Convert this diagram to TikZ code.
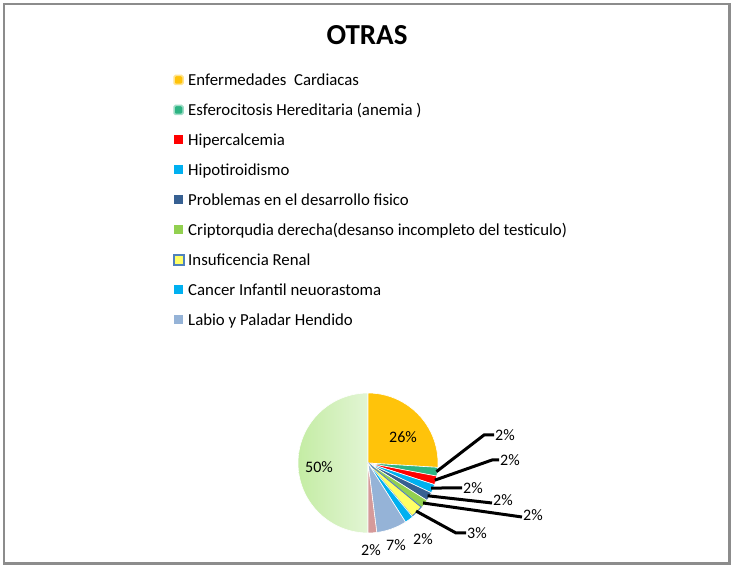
\documentclass[tikz,border=0pt]{standalone}
\usepackage{fontspec}
\setmainfont{Carlito}
\usetikzlibrary{calc}

\definecolor{framegray}{RGB}{140,140,140}
\definecolor{gold}{RGB}{255,195,10}
\definecolor{teal}{RGB}{45,180,131}
\definecolor{hired}{RGB}{255,0,0}
\definecolor{skyblue}{RGB}{0,176,240}
\definecolor{navyblue}{RGB}{55,96,146}
\definecolor{leafgreen}{RGB}{146,208,80}
\definecolor{paleyellow}{RGB}{255,255,102}
\definecolor{edgeblue}{RGB}{79,129,189}
\definecolor{steelblue}{RGB}{149,179,215}
\definecolor{dustpink}{RGB}{213,154,154}
\definecolor{greendark}{RGB}{196,236,164}
\definecolor{greenlight}{RGB}{226,245,212}

\tikzset{
  slice/.style = {draw = white, line width = .6pt},
  legtext/.style = {anchor = base west, inner sep = 0pt, font = \fontsize{16.8}{18}\selectfont},
  legbox/.style = {minimum size = 9pt, inner sep = 0pt},
  pct/.style = {inner sep = 1pt, font = \fontsize{16}{18}\selectfont},
  leader/.style = {line width = 3pt}
}

\begin{document}
\begin{tikzpicture}[x = 1pt, y = 1pt]
        \useasboundingbox (0,0) rectangle (731,565);
        \draw[line width = 2.5pt, color = framegray] (4,561) rectangle (729.5,1.5);

        \node[font = \fontsize{29}{31}\selectfont\bfseries] (ttl) at (367,530) {OTRAS};

        % legend
        \node[legbox, fill = gold, draw = gold!45, line width = 1.5pt, rounded corners = 1.5pt] (mk1) at (178.5,485) {};
        \node[legbox, fill = teal, draw = teal!45, line width = 1.5pt, rounded corners = 1.5pt] (mk2) at (178.5,455) {};
        \node[legbox, fill = hired] (mk3) at (178.5,425) {};
        \node[legbox, fill = skyblue] (mk4) at (178.5,395) {};
        \node[legbox, fill = navyblue] (mk5) at (178.5,365) {};
        \node[legbox, fill = leafgreen] (mk6) at (178.5,335) {};
        \node[legbox, fill = paleyellow, draw = edgeblue, line width = 2pt, minimum size = 10pt] (mk7) at (178.5,305) {};
        \node[legbox, fill = skyblue] (mk8) at (178.5,275) {};
        \node[legbox, fill = steelblue] (mk9) at (178.5,245) {};

        \node[legtext] (leg1) at (188,479.5) {Enfermedades \ Cardiacas};
        \node[legtext] (leg2) at (188,449.5) {Esferocitosis Hereditaria (anemia )};
        \node[legtext] (leg3) at (188,419.5) {Hipercalcemia};
        \node[legtext] (leg4) at (188,389.5) {Hipotiroidismo};
        \node[legtext] (leg5) at (188,359.5) {Problemas en el desarrollo fisico};
        \node[legtext] (leg6) at (188,329.5) {Criptorqudia derecha(desanso incompleto del testiculo)};
        \node[legtext] (leg7) at (188,299.5) {Insuficencia Renal};
        \node[legtext] (leg8) at (188,269.5) {Cancer Infantil neuorastoma};
        \node[legtext] (leg9) at (188,239.5) {Labio y Paladar Hendido};

        % pie
        \coordinate (c) at (368,102);
        \shade[slice, left color = greendark, right color = greenlight] (c) -- ++(-90:70) arc[start angle = -90, end angle = -270, radius = 70] -- cycle;
        \filldraw[slice, fill = gold] (c) -- ++(90:70) arc[start angle = 90, end angle = -3.6, radius = 70] -- cycle;
        \filldraw[slice, fill = teal] (c) -- ++(-3.6:70) arc[start angle = -3.6, end angle = -10.8, radius = 70] -- cycle;
        \filldraw[slice, fill = hired] (c) -- ++(-10.8:70) arc[start angle = -10.8, end angle = -18, radius = 70] -- cycle;
        \filldraw[slice, fill = skyblue] (c) -- ++(-18:70) arc[start angle = -18, end angle = -25.2, radius = 70] -- cycle;
        \filldraw[slice, fill = navyblue] (c) -- ++(-25.2:70) arc[start angle = -25.2, end angle = -32.4, radius = 70] -- cycle;
        \filldraw[slice, fill = leafgreen] (c) -- ++(-32.4:70) arc[start angle = -32.4, end angle = -39.6, radius = 70] -- cycle;
        \filldraw[slice, fill = paleyellow, draw = edgeblue, line width = 1pt] (c) -- ++(-39.6:69) arc[start angle = -39.6, end angle = -50.4, radius = 69] -- cycle;
        \filldraw[slice, fill = skyblue] (c) -- ++(-50.4:70) arc[start angle = -50.4, end angle = -57.6, radius = 70] -- cycle;
        \filldraw[slice, fill = steelblue] (c) -- ++(-57.6:70) arc[start angle = -57.6, end angle = -82.8, radius = 70] -- cycle;
        \filldraw[slice, fill = dustpink] (c) -- ++(-82.8:70) arc[start angle = -82.8, end angle = -90, radius = 70] -- cycle;

        \node[pct] (pa) at (403,128) {26\%};
        \node[pct] (pb) at (319,98) {50\%};

        % outside labels
        \node[pct] (p1) at (505,130) {2\%};
        \node[pct] (p2) at (510,105) {2\%};
        \node[pct] (p3) at (473,77) {2\%};
        \node[pct] (p4) at (503,65) {2\%};
        \node[pct] (p5) at (533,50) {2\%};
        \node[pct] (p6) at (477,32) {3\%};
        \node[pct] (p7) at (423,26) {2\%};
        \node[pct] (p8) at (396,20) {7\%};
        \node[pct] (p9) at (371,15) {2\%};

        \coordinate (r1) at ($(c)+(-7.2:69)$);
        \coordinate (r2) at ($(c)+(-14.4:69)$);
        \coordinate (r3) at ($(c)+(-21.6:68)$);
        \coordinate (r4) at ($(c)+(-28.8:68)$);
        \coordinate (r5) at ($(c)+(-36:68)$);
        \coordinate (r6) at ($(c)+(-45:68)$);

        \draw[leader] (r1) -- ([xshift = -10]p1.west) -- (p1.west);
        \draw[leader] (r2) -- ([xshift = -7]p2.west) -- (p2.west);
        \draw[leader] (r3) -- ([xshift = -20]p3.west) -- (p3.west);
        \draw[leader] (r4) -- ([yshift = -3]p4.west);
        \draw[leader] (r5) -- ([yshift = -2]p5.west);
        \draw[leader] (r6) -- ([xshift = -10]p6.west) -- (p6.west);
      \end{tikzpicture}
\end{document}
